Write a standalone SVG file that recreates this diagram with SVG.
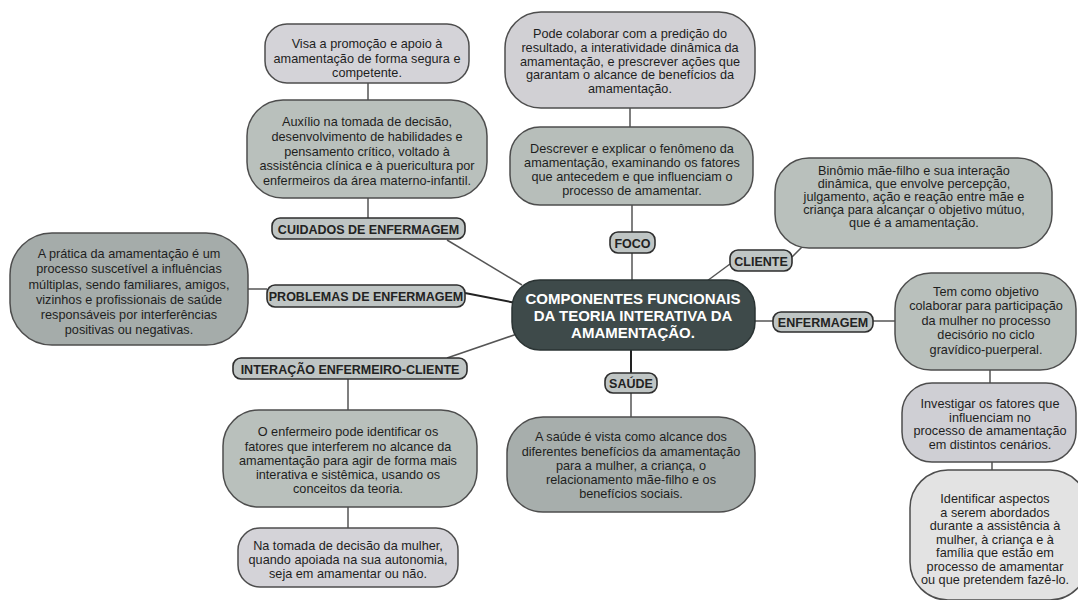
<svg xmlns="http://www.w3.org/2000/svg" width="1078" height="600" viewBox="0 0 1078 600">
<style>
.b{stroke:#4d4d4d;stroke-width:1.5}
.lb{fill:#bfc5c4;stroke:#2e2e2e;stroke-width:1.6}
.t{font-family:"Liberation Sans",Arial,sans-serif;font-size:12.7px;fill:#1e1e1e;text-anchor:middle}
.lt{font-family:"Liberation Sans",Arial,sans-serif;font-size:12.5px;font-weight:bold;fill:#222;text-anchor:middle}
.ct{font-family:"Liberation Sans",Arial,sans-serif;font-size:15px;font-weight:bold;fill:#ffffff;text-anchor:middle}
.c{stroke:#555;stroke-width:1.5;fill:none}
</style>
<rect width="1078" height="600" fill="#ffffff"/>
<g id="connectors">
<line class="c" x1="368" y1="83" x2="368" y2="100"/>
<line class="c" x1="368" y1="198" x2="368" y2="218"/>
<line class="c" x1="447" y1="240" x2="522" y2="285"/>
<line class="c" x1="630" y1="108" x2="630" y2="127"/>
<line class="c" x1="632" y1="205" x2="632" y2="232"/>
<line class="c" x1="632" y1="253" x2="632" y2="280"/>
<line class="c" x1="730" y1="264" x2="707" y2="281"/>
<line class="c" x1="792" y1="257" x2="803" y2="246"/>
<line class="c" x1="248" y1="289" x2="267" y2="289"/>
<line class="c" x1="465" y1="293" x2="516" y2="303" style="stroke:#222;stroke-width:2"/>
<line class="c" x1="447" y1="358" x2="517" y2="334"/>
<line class="c" x1="348" y1="379" x2="348" y2="410"/>
<line class="c" x1="348" y1="507" x2="348" y2="528"/>
<line class="c" x1="755" y1="321" x2="773" y2="321"/>
<line class="c" x1="873" y1="321" x2="895" y2="321"/>
<line class="c" x1="990" y1="370" x2="990" y2="383"/>
<line class="c" x1="992" y1="462" x2="992" y2="470"/>
<line class="c" x1="631" y1="350" x2="631" y2="373" style="stroke:#222;stroke-width:2"/>
<line class="c" x1="631" y1="393" x2="631" y2="417"/>
</g>
<g id="center">
<rect x="512" y="280" width="243" height="70" rx="28" fill="#3e4a4a" stroke="#2a3333" stroke-width="1.5"/>
<text class="ct" x="633" y="304">COMPONENTES FUNCIONAIS</text>
<text class="ct" x="633" y="321">DA TEORIA INTERATIVA DA</text>
<text class="ct" x="633" y="338">AMAMENTAÇÃO.</text>
</g>
<g id="visa">
<rect class="b" x="265" y="24" width="204" height="59" rx="22" fill="#d4d3d8"/>
<text class="t" x="367" y="48">Visa a promoção e apoio à</text>
<text class="t" x="367" y="62.5">amamentação de forma segura e</text>
<text class="t" x="367" y="76.5">competente.</text>
</g>
<g id="auxilio">
<rect class="b" x="247" y="100" width="240" height="98" rx="36" fill="#b9c0bc"/>
<text class="t" x="367" y="126">Auxílio na tomada de decisão,</text>
<text class="t" x="367" y="141">desenvolvimento de habilidades e</text>
<text class="t" x="367" y="155.5">pensamento crítico, voltado à</text>
<text class="t" x="367" y="170">assistência clínica e à puericultura por</text>
<text class="t" x="367" y="185">enfermeiros da área materno-infantil.</text>
</g>
<g id="cuidados">
<rect class="lb" x="272" y="218" width="193" height="21" rx="8"/>
<text class="lt" x="368.5" y="234">CUIDADOS DE ENFERMAGEM</text>
</g>
<g id="pode">
<rect class="b" x="505" y="12" width="250" height="96" rx="36" fill="#d1d0d4"/>
<text class="t" x="630" y="38">Pode colaborar com a predição do</text>
<text class="t" x="630" y="52">resultado, a interatividade dinâmica da</text>
<text class="t" x="630" y="65.5">amamentação, e prescrever ações que</text>
<text class="t" x="630" y="79">garantam o alcance de benefícios da</text>
<text class="t" x="630" y="93">amamentação.</text>
</g>
<g id="descrever">
<rect class="b" x="510" y="127" width="243" height="78" rx="30" fill="#b7beba"/>
<text class="t" x="632" y="153">Descrever e explicar o fenômeno  da</text>
<text class="t" x="632" y="167">amamentação, examinando os fatores</text>
<text class="t" x="632" y="181">que antecedem e que influenciam o</text>
<text class="t" x="632" y="195">processo de amamentar.</text>
</g>
<g id="foco">
<rect class="lb" x="610" y="232" width="45" height="21" rx="8"/>
<text class="lt" x="632.5" y="247.5">FOCO</text>
</g>
<g id="binomio">
<rect class="b" x="775" y="158" width="277" height="90" rx="34" fill="#b9c0bc"/>
<text class="t" x="914" y="174.5">Binômio mãe-filho e sua interação</text>
<text class="t" x="914" y="187.5">dinâmica, que envolve percepção,</text>
<text class="t" x="914" y="200.5">julgamento, ação e reação entre mãe e</text>
<text class="t" x="914" y="213.5">criança para alcançar o objetivo mútuo,</text>
<text class="t" x="914" y="226.5">que é a amamentação.</text>
</g>
<g id="cliente">
<rect class="lb" x="730" y="250" width="62" height="21" rx="8"/>
<text class="lt" x="761" y="265.5">CLIENTE</text>
</g>
<g id="pratica">
<rect class="b" x="10" y="233" width="238" height="112" rx="42" fill="#a5acaa"/>
<text class="t" x="129" y="258">A prática da amamentação é um</text>
<text class="t" x="129" y="273">processo suscetível a influências</text>
<text class="t" x="129" y="288.5">múltiplas, sendo familiares, amigos,</text>
<text class="t" x="129" y="304">vizinhos e profissionais de saúde</text>
<text class="t" x="129" y="319">responsáveis por interferências</text>
<text class="t" x="129" y="334">positivas ou negativas.</text>
</g>
<g id="problemas">
<rect class="lb" x="267" y="285" width="198" height="22" rx="8"/>
<text class="lt" x="366" y="301">PROBLEMAS DE ENFERMAGEM</text>
</g>
<g id="interacao">
<rect class="lb" x="233" y="358" width="234" height="21" rx="8"/>
<text class="lt" x="350" y="373.5">INTERAÇÃO ENFERMEIRO-CLIENTE</text>
</g>
<g id="enfermeiro">
<rect class="b" x="223" y="410" width="254" height="97" rx="36" fill="#b9c0bc"/>
<text class="t" x="348" y="436">O enfermeiro pode identificar os</text>
<text class="t" x="348" y="450.5">fatores que interferem no alcance da</text>
<text class="t" x="348" y="464.5">amamentação para agir de forma mais</text>
<text class="t" x="348" y="478.5">interativa e sistêmica, usando os</text>
<text class="t" x="348" y="493">conceitos da teoria.</text>
</g>
<g id="tomada">
<rect class="b" x="238" y="528" width="220" height="59" rx="22" fill="#d4d3d8"/>
<text class="t" x="348" y="549.5">Na tomada de decisão da mulher,</text>
<text class="t" x="348" y="564">quando apoiada na sua autonomia,</text>
<text class="t" x="348" y="578">seja em amamentar ou não.</text>
</g>
<g id="saude-label">
<rect class="lb" x="605" y="373" width="52" height="20" rx="8"/>
<text class="lt" x="631" y="388">SAÚDE</text>
</g>
<g id="saude">
<rect class="b" x="507" y="417" width="248" height="95" rx="36" fill="#a7aeac"/>
<text class="t" x="631" y="441">A saúde é vista como alcance dos</text>
<text class="t" x="631" y="456">diferentes benefícios da amamentação</text>
<text class="t" x="631" y="469.5">para a mulher, a criança, o</text>
<text class="t" x="631" y="484">relacionamento mãe-filho e os</text>
<text class="t" x="631" y="497.5">benefícios sociais.</text>
</g>
<g id="enfermagem">
<rect class="lb" x="773" y="312" width="100" height="20" rx="8"/>
<text class="lt" x="823" y="327">ENFERMAGEM</text>
</g>
<g id="objetivo">
<rect class="b" x="895" y="273" width="181" height="97" rx="36" fill="#b9c0bc"/>
<text class="t" x="986" y="296">Tem como objetivo</text>
<text class="t" x="986" y="310">colaborar para participação</text>
<text class="t" x="986" y="324.5">da mulher no processo</text>
<text class="t" x="986" y="339">decisório no ciclo</text>
<text class="t" x="986" y="353.5">gravídico-puerperal.</text>
</g>
<g id="investigar">
<rect class="b" x="902" y="383" width="174" height="79" rx="30" fill="#cfcfd4"/>
<text class="t" x="990" y="408">Investigar os fatores que</text>
<text class="t" x="990" y="421.5">influenciam no</text>
<text class="t" x="990" y="435">processo de amamentação</text>
<text class="t" x="990" y="448.5">em distintos cenários.</text>
</g>
<g id="identificar">
<rect class="b" x="910" y="470" width="178" height="130" rx="38" fill="#e3e3e3"/>
<text class="t" x="995" y="503">Identificar aspectos</text>
<text class="t" x="995" y="516.5">a serem abordados</text>
<text class="t" x="995" y="530">durante a assistência à</text>
<text class="t" x="995" y="543.5">mulher, à criança e à</text>
<text class="t" x="995" y="557">família que estão em</text>
<text class="t" x="995" y="570.5">processo de amamentar</text>
<text class="t" x="995" y="584">ou que pretendem fazê-lo.</text>
</g>
</svg>
